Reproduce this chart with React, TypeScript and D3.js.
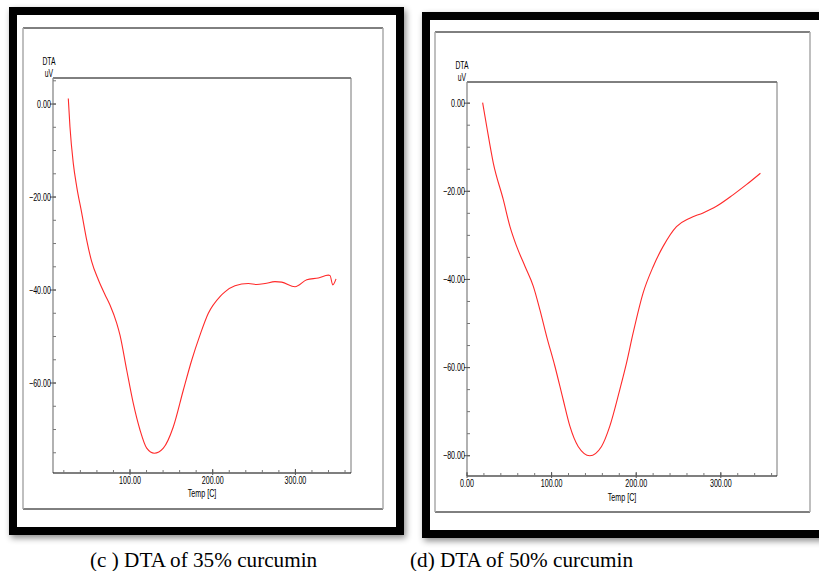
import React from "react";
import * as d3 from "d3";

// DTA trace, 35% curcumin sample
const temp35: number[] = [25.4, 27.4, 31.4, 35.6, 41.6, 47.6, 53.7, 61.7, 69.8, 75.8, 83.9, 87.9, 96.0, 104.0, 112.1, 120.2, 129.4, 140.3, 152.4, 164.5, 174.6, 184.6, 194.7, 208.8, 214.8, 226.9, 243.0, 253.2, 263.2, 275.3, 283.4, 299.5, 313.7, 327.7, 339.8, 341.9, 345.1, 349.1];
const dta35: number[] = [1.2, -4.9, -12.7, -17.8, -23.4, -29.2, -33.9, -37.8, -41.0, -43.2, -47.1, -49.7, -57.2, -64.4, -70.1, -74.0, -75.1, -74.0, -69.4, -61.5, -55.1, -49.7, -45.0, -41.4, -40.4, -39.1, -38.6, -38.8, -38.6, -38.2, -38.3, -39.3, -37.8, -37.4, -36.8, -36.9, -38.9, -37.6];

// DTA trace, 50% curcumin sample
const temp50: number[] = [18.5, 23.3, 31.1, 42.9, 50.8, 58.7, 68.5, 78.3, 86.2, 94.1, 103.9, 113.7, 121.6, 131.4, 145.2, 159.0, 168.8, 180.6, 188.5, 196.3, 208.1, 220.0, 231.8, 247.6, 263.3, 279.0, 294.8, 314.4, 330.2, 346.8];
const dta50: number[] = [0.1, -5.3, -13.6, -21.9, -28.0, -32.5, -37.0, -41.5, -46.9, -52.9, -59.7, -67.3, -73.3, -77.9, -80.0, -77.9, -73.3, -65.0, -59.0, -52.2, -43.1, -37.1, -32.5, -28.0, -26.1, -24.9, -23.4, -20.8, -18.5, -15.9];

// axis ranges and labelled ticks
const xDomain35: [number, number] = [6.9, 367.2];
const yDomain35: [number, number] = [-79.35, 5.6];
const xLabels35: number[] = [100, 200, 300];
const yLabels35: number[] = [0, -20, -40, -60];

const xDomain50: [number, number] = [0, 366.4];
const yDomain50: [number, number] = [-84.6, 4.8];
const xLabels50: number[] = [0, 100, 200, 300];
const yLabels50: number[] = [0, -20, -40, -60, -80];

const captions: string[] = ["(c ) DTA of 35% curcumin", "(d) DTA of 50% curcumin"];

const TICK_FONT = "'Liberation Sans', Arial, sans-serif";

// condensed small label, anchored at (x, y)
function Narrow(props: { x: number; y: number; anchor: string; size: number; children: React.ReactNode }) {
  return (
    <g transform={`translate(${props.x},${props.y}) scale(0.68,1)`}>
      <text
        x={0}
        y={0}
        dy="0.35em"
        textAnchor={props.anchor}
        fontFamily={TICK_FONT}
        fontSize={props.size}
        fill="#000"
      >
        {props.children}
      </text>
    </g>
  );
}

type Box = { x0: number; y0: number; x1: number; y1: number };

type PanelProps = {
  frame: Box;
  inner: Box;
  plot: Box;
  xs: number[];
  ys: number[];
  xDomain: [number, number];
  yDomain: [number, number];
  xLabels: number[];
  yLabels: number[];
  dtaLabel: { x: number; y: number };
  tempLabel: { x: number; y: number };
  xLabelY: number;
};

function Panel(p: PanelProps) {
  const { frame, inner, plot } = p;
  const x = d3.scaleLinear().domain(p.xDomain).range([plot.x0, plot.x1]);
  const y = d3.scaleLinear().domain(p.yDomain).range([plot.y1, plot.y0]);
  const line = d3
    .line<number>()
    .x((_, i) => x(p.xs[i]))
    .y((v) => y(v))
    .curve(d3.curveMonotoneX);

  const xMinor = d3.range(Math.ceil(p.xDomain[0] / 20) * 20, p.xDomain[1], 20);
  const yMinor = d3.range(Math.ceil(p.yDomain[0] / 5) * 5, p.yDomain[1], 5);
  const fmt = d3.format(".2f");
  const bw = 8;

  return (
    <g>
      {/* heavy black frame with soft shadow */}
      <rect
        x={frame.x0 + bw / 2}
        y={frame.y0 + bw / 2}
        width={frame.x1 - frame.x0 - bw}
        height={frame.y1 - frame.y0 - bw}
        fill="#fff"
        stroke="#000"
        strokeWidth={bw}
        filter="url(#shadow)"
      />
      {/* inner page border */}
      <line x1={inner.x0} x2={inner.x1} y1={inner.y0} y2={inner.y0} stroke="#000" strokeWidth={1} />
      <line x1={inner.x0} x2={inner.x1} y1={inner.y1} y2={inner.y1} stroke="#000" strokeWidth={1} />
      <line x1={inner.x0} x2={inner.x0} y1={inner.y0} y2={inner.y1} stroke="#aaa" strokeWidth={1.5} />
      <line x1={inner.x1} x2={inner.x1} y1={inner.y0} y2={inner.y1} stroke="#aaa" strokeWidth={1.5} />

      {/* plot box */}
      <line x1={plot.x0} x2={plot.x1} y1={plot.y0} y2={plot.y0} stroke="#000" strokeWidth={1} />
      <line x1={plot.x1} x2={plot.x1} y1={plot.y0} y2={plot.y1} stroke="#777" strokeWidth={1} />
      <line x1={plot.x0} x2={plot.x0} y1={plot.y0} y2={plot.y1} stroke="#888" strokeWidth={1.3} />
      <line x1={plot.x0} x2={plot.x1} y1={plot.y1} y2={plot.y1} stroke="#000" strokeWidth={1.2} />

      {/* y ticks */}
      {yMinor.map((v) => (
        <line key={"ym" + v} x1={plot.x0} x2={plot.x0 + 3} y1={y(v)} y2={y(v)} stroke="#777" strokeWidth={1} />
      ))}
      {p.yLabels.map((v) => (
        <g key={"yl" + v}>
          <line x1={plot.x0 - 3} x2={plot.x0 + 3} y1={y(v)} y2={y(v)} stroke="#555" strokeWidth={1} />
          <Narrow x={plot.x0 - 2} y={y(v)} anchor="end" size={10.5}>
            {fmt(v)}
          </Narrow>
        </g>
      ))}

      {/* x ticks */}
      {xMinor.map((v) => (
        <line key={"xm" + v} x1={x(v)} x2={x(v)} y1={plot.y1} y2={plot.y1 - 3} stroke="#777" strokeWidth={1} />
      ))}
      {p.xLabels.map((v) => (
        <g key={"xl" + v}>
          <line x1={x(v)} x2={x(v)} y1={plot.y1 + 2} y2={plot.y1 - 4} stroke="#555" strokeWidth={1} />
          <Narrow x={x(v)} y={p.xLabelY} anchor="middle" size={10.5}>
            {fmt(v)}
          </Narrow>
        </g>
      ))}

      {/* axis titles */}
      <Narrow x={p.dtaLabel.x} y={p.dtaLabel.y} anchor="middle" size={10}>
        DTA
      </Narrow>
      <Narrow x={p.dtaLabel.x} y={p.dtaLabel.y + 12} anchor="middle" size={10}>
        uV
      </Narrow>
      <Narrow x={p.tempLabel.x} y={p.tempLabel.y} anchor="middle" size={10.5}>
        Temp [C]
      </Narrow>

      {/* DTA curve */}
      <path d={line(p.ys) || ""} fill="none" stroke="#ff2a2a" strokeWidth={1.1} />
    </g>
  );
}

export default function App() {
  return (
    <svg
      width={819}
      height={571}
      viewBox="0 0 819 571"
      style={{ position: "absolute", left: 0, top: 0, background: "#fff" }}
    >
      <defs>
        <filter id="shadow" x="-5%" y="-5%" width="115%" height="115%">
          <feDropShadow dx={2} dy={3} stdDeviation={3} floodColor="#000" floodOpacity={0.45} />
        </filter>
      </defs>
      <rect x={0} y={0} width={819} height={571} fill="#fff" />

      <Panel
        frame={{ x0: 9, y0: 7, x1: 404, y1: 535 }}
        inner={{ x0: 23, y0: 28, x1: 383, y1: 509 }}
        plot={{ x0: 53, y0: 78, x1: 351, y1: 473 }}
        xs={temp35}
        ys={dta35}
        xDomain={xDomain35}
        yDomain={yDomain35}
        xLabels={xLabels35}
        yLabels={yLabels35}
        dtaLabel={{ x: 49, y: 61 }}
        tempLabel={{ x: 202, y: 493 }}
        xLabelY={480}
      />
      <Panel
        frame={{ x0: 422, y0: 12, x1: 834, y1: 538 }}
        inner={{ x0: 435, y0: 32, x1: 810, y1: 512 }}
        plot={{ x0: 467, y0: 82, x1: 777, y1: 476 }}
        xs={temp50}
        ys={dta50}
        xDomain={xDomain50}
        yDomain={yDomain50}
        xLabels={xLabels50}
        yLabels={yLabels50}
        dtaLabel={{ x: 462, y: 65 }}
        tempLabel={{ x: 622, y: 497 }}
        xLabelY={483}
      />

      <text x={90} y={567} fontFamily="'Liberation Serif', 'Times New Roman', serif" fontSize={21.2} fill="#000">
        {captions[0]}
      </text>
      <text x={410} y={567} fontFamily="'Liberation Serif', 'Times New Roman', serif" fontSize={21.2} fill="#000">
        {captions[1]}
      </text>
    </svg>
  );
}
